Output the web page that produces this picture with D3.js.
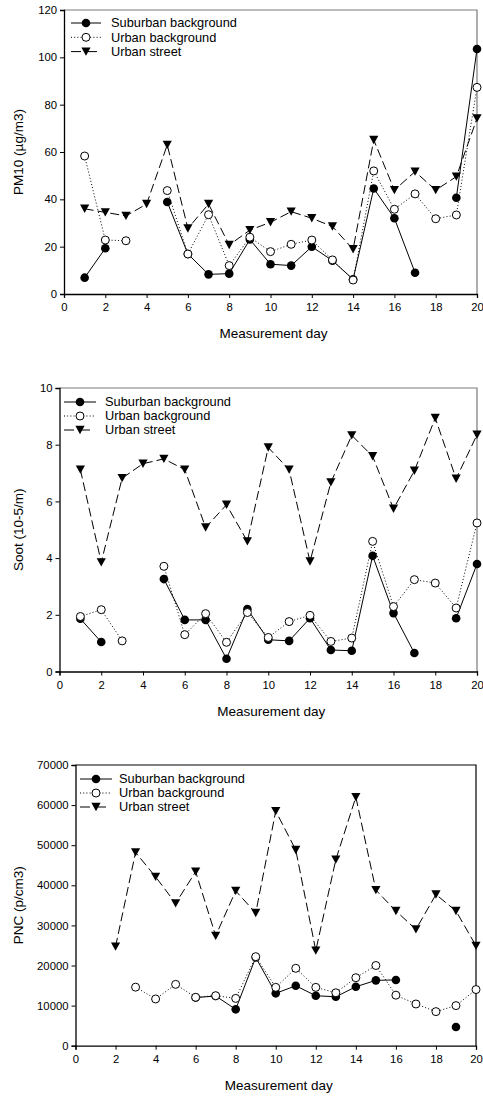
<!DOCTYPE html>
<html>
<head>
<meta charset="utf-8">
<script src="https://cdn.jsdelivr.net/npm/d3@7/dist/d3.min.js"></script>
<style>
  body { margin: 0; background: #fff; }
  svg { display: block; }
  text { font-family: "Liberation Sans", Arial, sans-serif; fill: #000; }
</style>
</head>
<body>
<svg id="chart" width="483" height="1097"></svg>
<script>
// Measurement days and axis ticks
const days = [1, 2, 3, 4, 5, 6, 7, 8, 9, 10, 11, 12, 13, 14, 15, 16, 17, 18, 19, 20];
const dayTicks = [0, 2, 4, 6, 8, 10, 12, 14, 16, 18, 20];
const seriesNames = ["Suburban background", "Urban background", "Urban street"];

// PM10 (µg/m3)
const pm10Ticks = [0, 20, 40, 60, 80, 100, 120];
const pm10Suburban = [6.9, 19.3, null, null, 38.9, 16.9, 8.3, 8.6, 23.0, 12.6, 12.0, 20.0, 14.1, 6.2, 44.6, 32.0, 9.0, null, 40.7, 103.5];
const pm10UrbanBg  = [58.3, 22.8, 22.5, null, 43.7, 16.9, 33.5, 12.0, 24.0, 17.9, 21.0, 22.8, 14.4, 5.9, 52.0, 35.8, 42.3, 31.8, 33.4, 87.3];
const pm10Street   = [36.0, 34.5, 33.0, 38.0, 63.0, 27.7, 38.0, 20.7, 27.0, 30.3, 34.8, 32.0, 28.5, 18.9, 65.1, 43.9, 51.7, 43.9, 49.6, 74.2];

// Soot (10-5/m)
const sootTicks = [0, 2, 4, 6, 8, 10];
const sootSuburban = [1.86, 1.04, null, null, 3.26, 1.82, 1.82, 0.45, 2.2, 1.12, 1.08, 1.88, 0.76, 0.73, 4.08, 2.06, 0.65, null, 1.88, 3.79];
const sootUrbanBg  = [1.94, 2.18, 1.08, null, 3.71, 1.30, 2.04, 1.03, 2.08, 1.20, 1.76, 1.98, 1.06, 1.18, 4.59, 2.29, 3.24, 3.12, 2.24, 5.24];
const sootStreet   = [7.12, 3.85, 6.82, 7.33, 7.50, 7.12, 5.08, 5.88, 4.59, 7.90, 7.12, 3.88, 6.67, 8.33, 7.59, 5.74, 7.08, 8.94, 6.80, 8.35];

// PNC (p/cm3)
const pncTicks = [0, 10000, 20000, 30000, 40000, 50000, 60000, 70000];
const pncSuburban = [null, null, null, null, null, 12000, 12400, 9070, 22000, 13060, 14950, 12460, 12200, 14700, 16300, 16400, null, null, 4660, null];
const pncUrbanBg  = [null, null, 14600, 11650, 15300, 12070, 12470, 11800, 22200, 14550, 19300, 14550, 13200, 16950, 20000, 12600, 10400, 8500, 10000, 14000];
const pncStreet   = [null, 24700, 48200, 42100, 35500, 43400, 27400, 38600, 33100, 58500, 48800, 23700, 46400, 62000, 38800, 33600, 29000, 37700, 33600, 24900];

const panels = [
  { label: "PM10 (µg/m3)", ticks: pm10Ticks, series: [pm10Suburban, pm10UrbanBg, pm10Street],
    box: { left: 64, right: 477, top: 10, bottom: 294 }, frame: "#7a7a7a",
    legend: { x0: 71, x1: 101, tx: 111, y: 23, dy: 14.3 } },
  { label: "Soot (10-5/m)", ticks: sootTicks, series: [sootSuburban, sootUrbanBg, sootStreet],
    box: { left: 59.5, right: 477, top: 388, bottom: 671.5 }, frame: "#7a7a7a",
    legend: { x0: 64, x1: 96, tx: 105, y: 402, dy: 14 } },
  { label: "PNC (p/cm3)", ticks: pncTicks, series: [pncSuburban, pncUrbanBg, pncStreet],
    box: { left: 75.5, right: 476, top: 765, bottom: 1045.7 }, frame: "#000",
    legend: { x0: 80, x1: 112, tx: 119, y: 779, dy: 14 } }
];

const styles = [
  { dash: null, marker: "filled" },
  { dash: "1,2.2", marker: "open" },
  { dash: "9,4", marker: "triangle" }
];

const svg = d3.select("#chart");

function drawMarker(g, kind, x, y) {
  if (kind === "filled") {
    g.append("circle").attr("cx", x).attr("cy", y).attr("r", 4.3).attr("fill", "#000");
  } else if (kind === "open") {
    g.append("circle").attr("cx", x).attr("cy", y).attr("r", 4).attr("fill", "#fff")
      .attr("stroke", "#000").attr("stroke-width", 1);
  } else {
    g.append("path").attr("transform", `translate(${x},${y})`)
      .attr("d", "M-4.6,-4.2L4.6,-4.2L0,4.2Z").attr("fill", "#000");
  }
}

panels.forEach(p => {
  const b = p.box;
  const x = d3.scaleLinear().domain([0, 20]).range([b.left, b.right]);
  const y = d3.scaleLinear().domain([0, d3.max(p.ticks)]).range([b.bottom, b.top]);
  const g = svg.append("g");

  // frame (top and right)
  g.append("path")
    .attr("d", `M${b.left},${b.top}H${b.right}V${b.bottom}`)
    .attr("fill", "none").attr("stroke", p.frame).attr("stroke-width", 1.2);

  // axes
  const xAxis = g.append("g").attr("transform", `translate(0,${b.bottom})`)
    .call(d3.axisBottom(x).tickValues(dayTicks).tickSize(4).tickPadding(5).tickFormat(d3.format("d")));
  const yAxis = g.append("g").attr("transform", `translate(${b.left},0)`)
    .call(d3.axisLeft(y).tickValues(p.ticks).tickSize(4).tickPadding(3).tickFormat(d3.format("d")));
  [xAxis, yAxis].forEach(a => {
    a.select(".domain").attr("stroke", "#000").attr("stroke-width", 1.3);
    a.selectAll(".tick line").attr("stroke", "#000");
    a.selectAll(".tick text").attr("font-size", 11.3).attr("fill", "#000")
      .style("font-family", '"Liberation Sans", Arial, sans-serif');
  });

  // axis titles
  g.append("text").attr("x", (b.left + b.right) / 2 + 3).attr("y", b.bottom + 44)
    .attr("text-anchor", "middle").attr("font-size", 13.5).text("Measurement day");
  g.append("text")
    .attr("transform", `translate(23,${(b.top + b.bottom) / 2}) rotate(-90)`)
    .attr("text-anchor", "middle").attr("font-size", 13.5).text(p.label);

  // series: lines then markers, drawn in legend order
  p.series.forEach((vals, i) => {
    const pts = days.map((d, k) => ({ d, v: vals[k] }));
    const line = d3.line().defined(o => o.v != null).x(o => x(o.d)).y(o => y(o.v));
    const path = g.append("path").datum(pts).attr("d", line)
      .attr("fill", "none").attr("stroke", "#000").attr("stroke-width", 1);
    if (styles[i].dash) path.attr("stroke-dasharray", styles[i].dash);
    pts.filter(o => o.v != null).forEach(o => drawMarker(g, styles[i].marker, x(o.d), y(o.v)));
  });

  // legend
  const L = p.legend;
  seriesNames.forEach((name, i) => {
    const ly = L.y + i * L.dy;
    const ln = g.append("line").attr("x1", L.x0).attr("x2", L.x1).attr("y1", ly).attr("y2", ly)
      .attr("stroke", "#000").attr("stroke-width", 1);
    if (styles[i].dash) ln.attr("stroke-dasharray", i === 2 ? "10,6" : styles[i].dash);
    drawMarker(g, styles[i].marker, (L.x0 + L.x1) / 2, ly);
    g.append("text").attr("x", L.tx).attr("y", ly + 4.4).attr("font-size", 12.8).text(name);
  });
});
</script>
</body>
</html>
